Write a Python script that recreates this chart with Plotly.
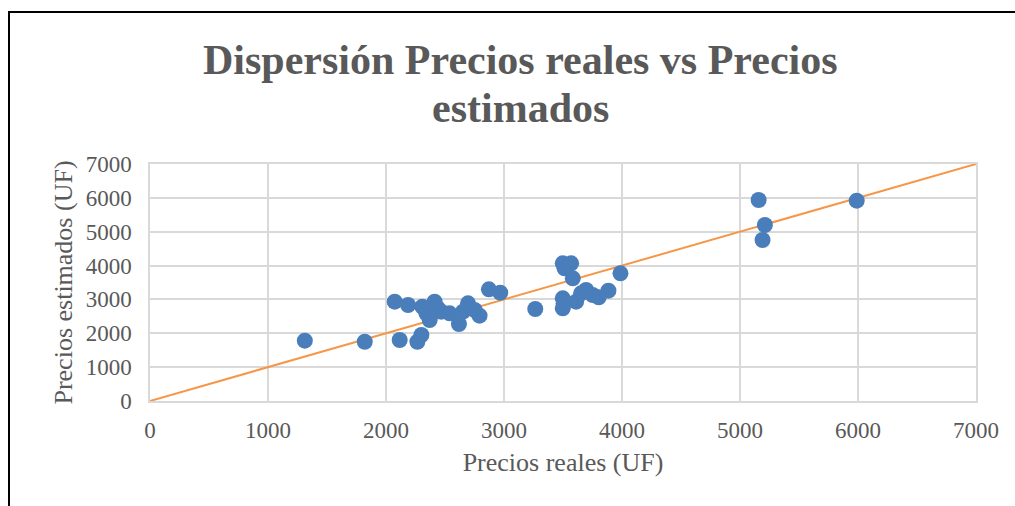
import plotly.graph_objects as go

precios_reales = [1312, 1820, 2074, 2187, 2116, 2266, 2300, 2308, 2412, 2370, 2440, 2469,
                  2342, 2539, 2618, 2695, 2652, 2793, 2751, 2872, 2968, 3265,
                  3498, 3569, 3513, 3583, 3498, 3498, 3505, 3611, 3653, 3696, 3752, 3803,
                  3885, 3987, 5158, 5211, 5191, 5989]
precios_estimados = [1781, 1751, 2933, 2835, 1801, 1751, 1949, 2786, 2933, 2392, 2737, 2638,
                     2590, 2589, 2274, 2885, 2638, 2520, 2688, 3298, 3199, 2717,
                     4066, 4066, 3919, 3624, 3033, 2738, 2880, 2933, 3181, 3278, 3130, 3062,
                     3258, 3771, 5936, 5198, 4755, 5916]

linea_x = [0, 7000]
linea_y = [0, 7000]

tick_vals = [0, 1000, 2000, 3000, 4000, 5000, 6000, 7000]

titulo_lineas = ["Dispersión Precios reales vs Precios", "estimados"]

FONT = "Liberation Serif"
GREY = "#595959"
GRID = "#d9d9d9"

W, H = 1015, 506
L, R, T, B = 150, 39, 164, 105
pw = W - L - R
ph = H - T - B

def px_x(p):
    return (p - L) / pw

def px_y(p):
    return (H - B - p) / ph

fig = go.Figure()
fig.add_trace(go.Scatter(x=linea_x, y=linea_y, mode="lines",
                         line=dict(color="#f79646", width=2), showlegend=False,
                         hoverinfo="skip"))
fig.add_trace(go.Scatter(x=precios_reales, y=precios_estimados, mode="markers",
                         marker=dict(color="#4a7ebb", size=16, line=dict(width=0)),
                         showlegend=False))

axis_common = dict(range=[0, 7000], tickvals=tick_vals, showgrid=True, gridcolor=GRID,
                   gridwidth=1.5, zeroline=False, showline=True, linecolor=GRID,
                   linewidth=1.5, mirror=True,
                   tickfont=dict(family=FONT, size=23, color=GREY),
                   ticks="outside", ticklen=0)

fig.update_xaxes(**axis_common,
                 title=dict(text="Precios reales (UF)", font=dict(family=FONT, size=26, color=GREY),
                            standoff=10),
                 ticklabelstandoff=8)
fig.update_yaxes(**axis_common,
                 title=dict(text="Precios estimados (UF)", font=dict(family=FONT, size=26, color=GREY),
                            standoff=6),
                 ticklabelstandoff=12)

# chart frame: only the top and left edges are visible in the crop
fig.add_shape(type="rect", xref="paper", yref="paper",
              x0=px_x(9), x1=px_x(1040), y0=px_y(12), y1=px_y(540),
              line=dict(color="black", width=2), fillcolor="rgba(0,0,0,0)", layer="below")

for texto, cy in zip(titulo_lineas, [60, 108]):
    fig.add_annotation(text=f"<b>{texto}</b>", xref="paper", yref="paper",
                       x=px_x(520), y=px_y(cy), xanchor="center", yanchor="middle",
                       showarrow=False, font=dict(family=FONT, size=42, color=GREY))

fig.update_layout(
    width=W, height=H,
    margin=dict(l=L, r=R, t=T, b=B),
    paper_bgcolor="white", plot_bgcolor="white",
)

fig.write_html("out.html", config={"displayModeBar": False},
               post_script="document.body.style.margin='0';document.body.style.overflow='hidden';")
